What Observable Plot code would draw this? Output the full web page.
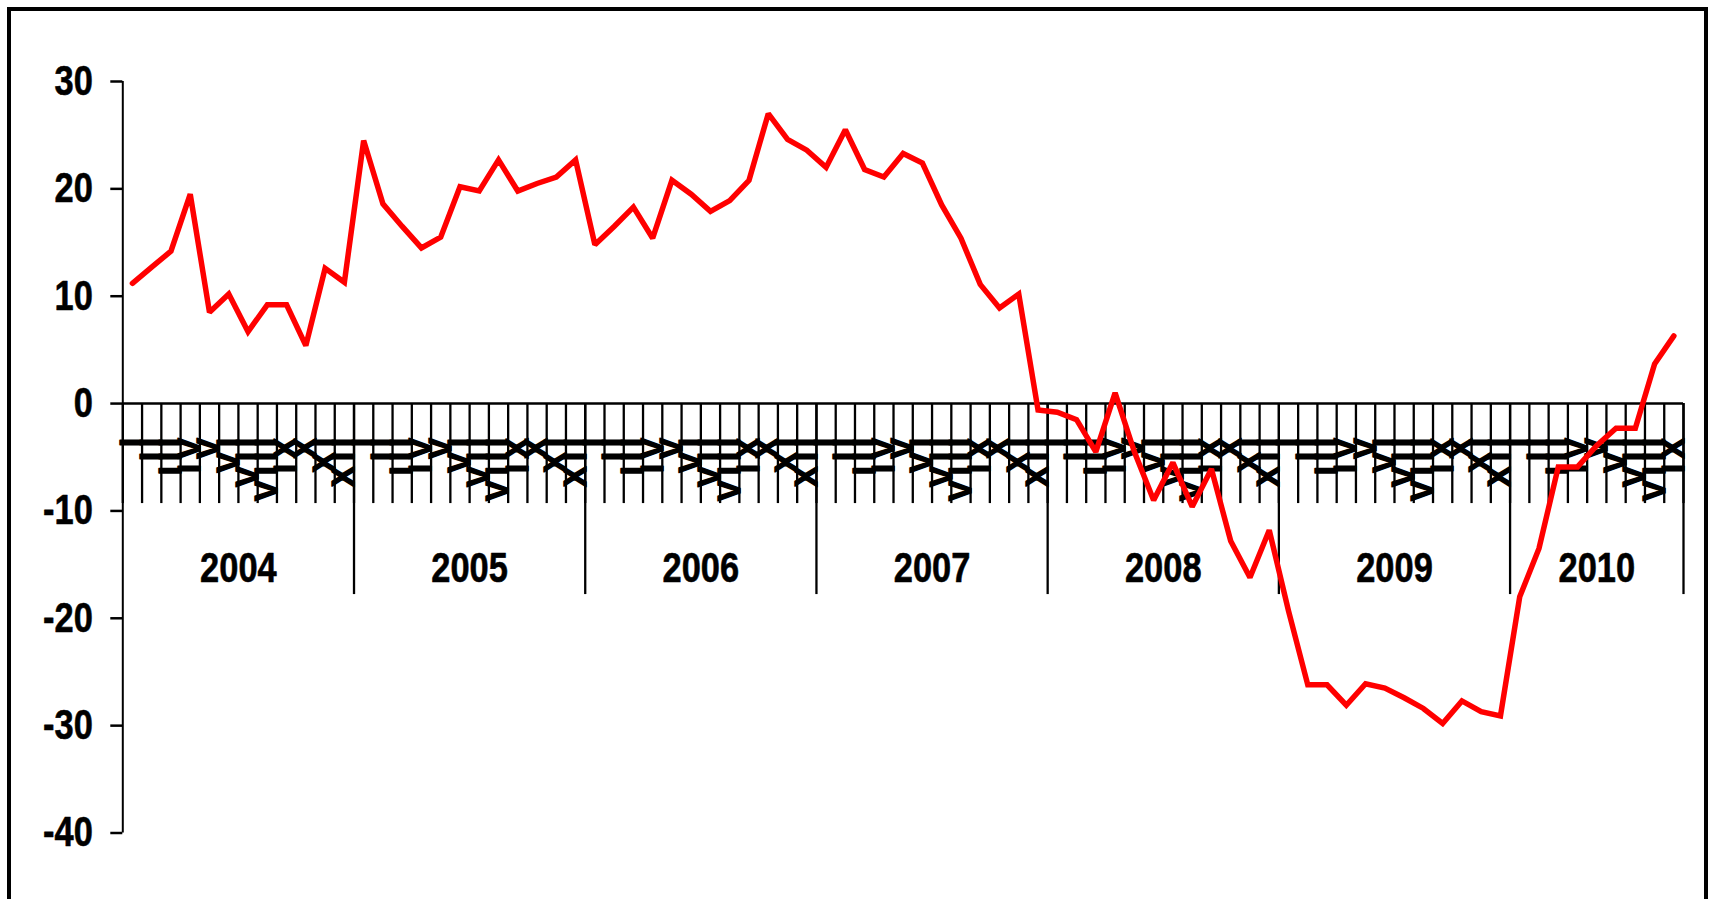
<!DOCTYPE html>
<html>
<head>
<meta charset="utf-8">
<script src="https://cdn.jsdelivr.net/npm/d3@7"></script>
<script src="https://cdn.jsdelivr.net/npm/@observablehq/plot@0.6"></script>
<style>
  html, body { margin: 0; padding: 0; background: #fff; overflow: hidden; }
  #wrap { position: relative; width: 1709px; height: 899px; overflow: hidden; }
  #frame { position: absolute; left: 7px; top: 7px; width: 1693px; height: 1000px; border: 4px solid #000; pointer-events: none; }
  #chart { position: absolute; left: 0; top: 0; }
</style>
</head>
<body>
<div id="wrap"><div id="chart"></div><div id="frame"></div></div>
<script>
// ---- data ----
const years = ["2004", "2005", "2006", "2007", "2008", "2009", "2010"];
const monthLabels = ["I", "II", "III", "IV", "V", "VI", "VII", "VIII", "IX", "X", "XI", "XII"];
const yTicks = [30, 20, 10, 0, -10, -20, -30, -40];
const values = [
  11.2, 12.7, 14.2, 19.5, 8.5, 10.2, 6.7, 9.2, 9.2, 5.4, 12.6, 11.3,      // 2004
  24.5, 18.6, 16.5, 14.5, 15.5, 20.2, 19.8, 22.7, 19.8, 20.5, 21.1, 22.7, // 2005
  14.8, 16.5, 18.3, 15.4, 20.8, 19.5, 17.9, 18.9, 20.8, 27.0, 24.6, 23.6, // 2006
  22.0, 25.5, 21.8, 21.1, 23.3, 22.4, 18.5, 15.4, 11.1, 8.9, 10.2, -0.6,  // 2007
  -0.8, -1.5, -4.5, 1.0, -4.5, -9.0, -5.5, -9.6, -6.1, -12.8, -16.2, -11.8, // 2008
  -19.3, -26.2, -26.2, -28.1, -26.1, -26.5, -27.4, -28.4, -29.8, -27.7, -28.7, -29.1, // 2009
  -18.0, -13.5, -5.9, -5.9, -3.9, -2.3, -2.3, 3.7, 6.3                     // 2010 (I-IX)
];

// ---- derived tables ----
const n = values.length;
const months = values.map((v, i) => ({i, v, label: monthLabels[i % 12]}));
const boundaries = d3.range(n + 1);
const yearSpans = years.map((y, k) => ({year: y, start: 12 * k, end: Math.min(12 * k + 12, n)}));
const yearEdges = yearSpans.map(d => d.end);

const font = "'Liberation Sans', Arial, sans-serif";

const plot = Plot.plot({
  width: 1709,
  height: 899,
  marginLeft: 122.3,
  marginRight: 26,
  marginTop: 81,
  marginBottom: 66.5,
  x: {type: "linear", domain: [0, n], axis: null},
  y: {domain: [-40, 30], axis: null},
  style: {background: "transparent", overflow: "visible"},
  marks: [
    // y axis line and ticks
    Plot.ruleX([0], {x: d => d, y1: -40, y2: 30, stroke: "#000", strokeWidth: 2}),
    Plot.ruleY(yTicks, {y: d => d, x1: 0, x2: 0, insetLeft: -12, stroke: "#000", strokeWidth: 2.5}),
    // text mark #0: y tick labels
    Plot.text(yTicks, {
      x: () => 0, y: d => d, text: d => String(d), textAnchor: "end", dx: -30,
      fontSize: 42, fontWeight: "bold", fontFamily: font, fill: "#000",
      stroke: "#000", strokeWidth: 0.6
    }),
    // category axis at zero
    Plot.ruleY([0], {stroke: "#000", strokeWidth: 2.5}),
    Plot.ruleX(boundaries, {x: d => d, y1: () => 0, y2: () => 0, insetBottom: -100, stroke: "#000", strokeWidth: 2.3}),
    Plot.ruleX(yearEdges, {x: d => d, y1: () => 0, y2: () => 0, insetBottom: -191, stroke: "#000", strokeWidth: 2.3}),
    // text mark #1: month labels (rotated roman numerals)
    Plot.text(months, {
      x: d => d.i + 0.5, y: () => 0, text: "label", rotate: -90,
      textAnchor: "end", lineAnchor: "middle", dy: 29,
      fontSize: 31, fontWeight: "bold", fontFamily: font,
      fill: "#000", stroke: "#000", strokeWidth: 1.5
    }),
    // text mark #2: year labels
    Plot.text(yearSpans, {
      x: d => (d.start + d.end) / 2, y: () => 0, text: "year", dy: 165,
      lineAnchor: "middle", fontSize: 42, fontWeight: "bold", fontFamily: font, fill: "#000",
      stroke: "#000", strokeWidth: 0.6
    }),
    // data line
    Plot.line(months, {x: d => d.i + 0.5, y: "v", stroke: "#ff0000", strokeWidth: 5.5, strokeLinejoin: "miter", strokeMiterlimit: 2})
  ]
});

document.getElementById("chart").appendChild(plot);
const textGroups = d3.select(plot).selectAll('g[aria-label="text"]').nodes();
const squeeze = function() {
  const t = this.getAttribute("transform") || "";
  this.setAttribute("transform", t + " scale(0.82,1)");
};
if (textGroups.length >= 3) {
  d3.select(textGroups[0]).selectAll("text").each(squeeze);
  d3.select(textGroups[1]).selectAll("text").style("letter-spacing", "5.5px");
  d3.select(textGroups[2]).selectAll("text").each(squeeze);
}
</script>
</body>
</html>
